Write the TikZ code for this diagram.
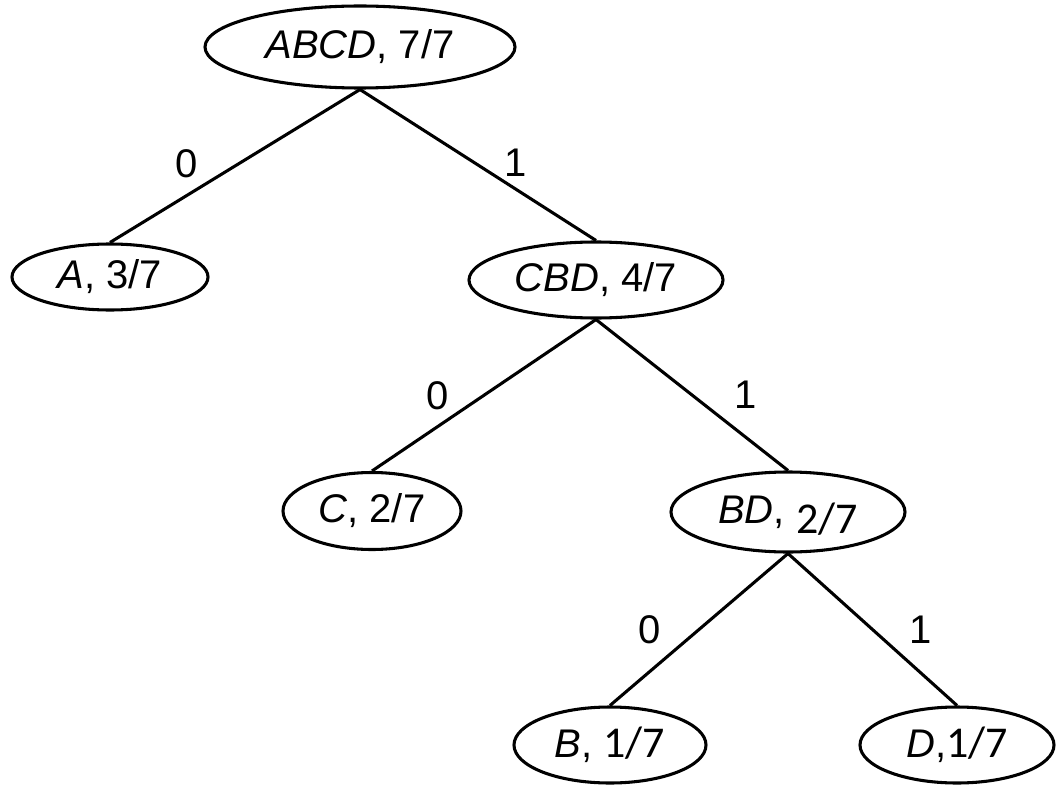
\documentclass[tikz,border=0pt]{standalone}
\usepackage{fontspec}
\setmainfont{Liberation Sans}
\newfontfamily\calfont{Carlito}
\newcommand\calnum[1]{{\calfont\fontsize{33}{40}\selectfont #1}}
\usetikzlibrary{calc,shapes.geometric}

\begin{document}
\begin{tikzpicture}[x=0.75pt,y=-0.75pt,line width=2.3pt,
		every node/.style={font=\fontsize{30}{36}\selectfont},
		leaf/.style={draw,ellipse,inner sep=0pt},
		bit/.style={inner sep=0pt}]
		\useasboundingbox (0,0) rectangle (1056,788);
		\node [leaf,minimum width=232.5pt,minimum height=61.5pt] (1) at (360,47) {\textit{ABCD}, 7/7};
		\node [leaf,minimum width=147pt,minimum height=49.5pt] (2) at ($(1) + (-250,230)$) {\textit{A}, 3/7};
		\node [leaf,minimum width=190.5pt,minimum height=57pt] (3) at ($(1) + (236,233)$) {\textit{CBD}, 4/7};
		\node [leaf,minimum width=133.5pt,minimum height=57.75pt] (4) at ($(3) + (-224,231)$) {\textit{C}, 2/7};
		\node [leaf,minimum width=175.5pt,minimum height=60pt] (5) at ($(3) + (192,232)$) {\textit{BD}, \raisebox{-7.5pt}[0pt][0pt]{\calnum{2/7}}};
		\node [leaf,minimum width=144pt,minimum height=57pt] (6) at ($(5) + (-178,233)$) {\textit{B}, \calnum{1/7}};
		\node [leaf,minimum width=145.5pt,minimum height=57pt] (7) at ($(5) + (169,233)$) {\textit{D},\calnum{1/7}};
		\draw (1.south) -- node [bit,xshift=-36pt,yshift=2pt] {0} (2.north);
		\draw (1.south) -- node [bit,xshift=28pt,yshift=1.5pt] {1} (3.north);
		\draw (3.south) -- node [bit,xshift=-35pt] {0} (4.north);
		\draw (3.south) -- node [bit,xshift=40pt] {1} (5.north);
		\draw (5.south) -- node [bit,xshift=-37pt] {0} (6.north);
		\draw (5.south) -- node [bit,xshift=36pt] {1} (7.north);
\end{tikzpicture}
\end{document}
